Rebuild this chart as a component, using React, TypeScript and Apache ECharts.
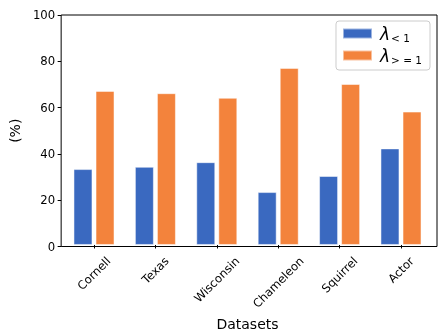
import React, { useEffect, useRef } from "react";
import * as echarts from "echarts";

const categories = ["Cornell", "Texas", "Wisconsin", "Chameleon", "Squirrel", "Actor"];
const lambdaLess = [33, 34, 36, 23, 30, 42];
const lambdaGeq = [67, 66, 64, 77, 70, 58];
const seriesNames = ["lt", "ge"];
const legendSubs = ["< 1", "> = 1"];
const yMin = 0;
const yMax = 100;
const yStep = 20;

const FONT = "DejaVu Sans";
const BLUE = "#3a69c0";
const ORANGE = "#f3833c";
const TICK_FS = 11.67;

export default function App() {
  const ref = useRef<HTMLDivElement>(null);
  useEffect(() => {
    const el = ref.current!;
    const chart = echarts.init(el, null, { renderer: "svg" });
    const canvas = document.createElement("canvas");
    const ctx = canvas.getContext("2d")!;
    ctx.font = `${TICK_FS}px "${FONT}"`;
    const rich: any = {};
    categories.forEach((c, i) => {
      const p = 0.5 * ctx.measureText(c).width;
      rich[`c${i}`] = {
        padding: [p, p, 0, 0],
        fontSize: TICK_FS,
        fontFamily: FONT,
        color: "#000",
      };
    });
    const top = 15;
    const bottom = 89.5;
    chart.setOption({
      animation: false,
      grid: [
        { left: 57, right: 11, top, bottom, show: true, borderColor: "#000", borderWidth: 1, backgroundColor: "transparent" },
        { left: 63.3, right: 16.3, top, bottom },
      ],
      xAxis: [
        { gridIndex: 0, type: "category", data: categories, show: false },
        {
          gridIndex: 1,
          type: "category",
          data: categories,
          axisLine: { show: false },
          axisTick: { show: true, alignWithLabel: true, length: 3.5, lineStyle: { color: "#000", width: 1 } },
          axisLabel: {
            interval: 0,
            rotate: 45,
            align: "center",
            verticalAlign: "middle",
            margin: 14,
            formatter: (v: string, i: number) => `{c${i}|${v}}`,
            rich,
          },
          name: "Datasets",
          nameLocation: "middle",
          nameGap: 59,
          nameTextStyle: { fontSize: 14, fontFamily: FONT, color: "#000" },
        },
      ],
      yAxis: [
        {
          gridIndex: 0,
          type: "value",
          min: yMin,
          max: yMax,
          interval: yStep,
          axisLine: { show: false },
          axisTick: { show: true, length: 3.5, lineStyle: { color: "#000", width: 1 } },
          axisLabel: { fontSize: TICK_FS, color: "#000", fontFamily: FONT, margin: 6 },
          splitLine: { show: false },
          name: "(%)",
          nameLocation: "middle",
          nameGap: 31,
          nameRotate: 90,
          nameTextStyle: { fontSize: 14, fontFamily: FONT, color: "#000" },
        },
        { gridIndex: 1, type: "value", min: yMin, max: yMax, show: false },
      ],
      legend: {
        orient: "vertical",
        right: 18,
        top: 21,
        itemWidth: 29,
        itemHeight: 10,
        itemGap: 4,
        padding: [4, 8, 5, 6],
        backgroundColor: "#fff",
        borderColor: "#cccccc",
        borderWidth: 1,
        borderRadius: 3,
        icon: "rect",
        data: seriesNames,
        formatter: (name: string) => `{l|λ}{s|${legendSubs[seriesNames.indexOf(name)]}}`,
        textStyle: {
          rich: {
            l: { fontSize: 17, fontFamily: FONT, fontStyle: "italic", color: "#000", padding: [0, 0, 0, 3] },
            s: { fontSize: 10.5, fontFamily: FONT, color: "#000", verticalAlign: "bottom", padding: [8, 0, 0, 1] },
          },
        },
      },
      series: [
        {
          name: seriesNames[0],
          type: "bar",
          xAxisIndex: 1,
          yAxisIndex: 1,
          data: lambdaLess,
          barWidth: 19,
          barGap: "16%",
          itemStyle: { color: BLUE, borderColor: "rgba(255,255,255,0.5)", borderWidth: 1 },
        },
        {
          name: seriesNames[1],
          type: "bar",
          xAxisIndex: 1,
          yAxisIndex: 1,
          data: lambdaGeq,
          barWidth: 19,
          barGap: "16%",
          itemStyle: { color: ORANGE, borderColor: "rgba(255,255,255,0.5)", borderWidth: 1 },
        },
      ],
    });
    return () => chart.dispose();
  }, []);
  return <div ref={ref} style={{ position: "fixed", left: 0, top: 0, width: 448, height: 336 }} />;
}
